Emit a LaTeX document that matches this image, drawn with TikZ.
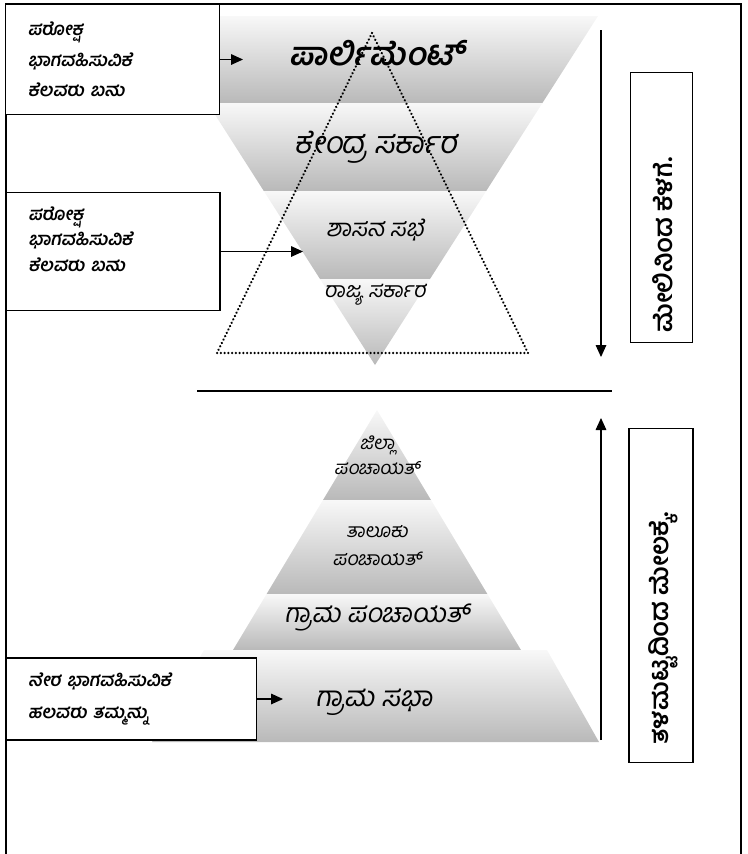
\documentclass[tikz,border=0pt]{standalone}
\usepackage{fontspec}
\newfontfamily\kn[Script=Kannada]{Hind Mysuru}
\newfontfamily\knit[Script=Kannada,FakeSlant=0.18]{Hind Mysuru}
\usetikzlibrary{arrows.meta}
\definecolor{bandtop}{HTML}{F8F8F8}
\definecolor{bandbot}{HTML}{B9B9B9}

\begin{document}
\begin{tikzpicture}[
  x=0.75pt, y=-0.75pt,
  infobox/.style={draw, line width=0.9pt, fill=white, align=left, inner xsep=16pt,
                  font=\knit\bfseries\fontsize{13.5}{23}\selectfont},
  tier/.style={align=center, inner sep=1pt},
  band/.style={top color=bandtop, bottom color=bandbot},
  flow/.style={-{Triangle[length=9pt,width=8pt]}, line width=0.8pt},
  vbox/.style={draw, line width=0.9pt},
  vlbl/.style={font=\kn\bfseries\fontsize{19}{22}\selectfont, rotate=90, anchor=west, inner sep=0pt},
  dots/.style={line width=1.9pt, line cap=round, dash pattern=on 0.01pt off 2.8pt},
]
\useasboundingbox (0,0) rectangle (747,854);

% inverted pyramid
\shade[band] (152,16) -- (598,16) -- (542.4,103) -- (207.6,103) -- cycle;
\shade[band] (207.6,103) -- (542.4,103) -- (486.2,191) -- (263.8,191) -- cycle;
\shade[band] (263.8,191) -- (486.2,191) -- (430,279) -- (320,279) -- cycle;
\shade[band] (320,279) -- (430,279) -- (375,365) -- cycle;

\node[tier, font=\knit\bfseries\fontsize{24}{28}\selectfont] (parl)   at (377,53)  {ಪಾರ್ಲಿಮೆಂಟ್};
\node[tier, font=\knit\fontsize{23}{26}\selectfont]          (kendra) at (376,147) {ಕೇಂದ್ರ ಸರ್ಕಾರ};
\node[tier, font=\knit\fontsize{18}{21}\selectfont]          (sabhe)  at (375,230) {ಶಾಸನ ಸಭೆ};
\node[tier, font=\knit\fontsize{16}{19}\selectfont]          (rajya)  at (375,295) {ರಾಜ್ಯ ಸರ್ಕಾರ};

\draw[dots] (372,33) -- (528,353) -- (217,353) -- cycle;

% upright pyramid
\shade[band] (377,410) -- (431,500) -- (323,500) -- cycle;
\shade[band] (323,500) -- (431,500) -- (487.4,594) -- (266.6,594) -- cycle;
\shade[band] (266.6,594) -- (487.4,594) -- (521,650) -- (233,650) -- cycle;
\shade[band] (204,650) -- (547,650) -- (599,742) -- (152,742) -- cycle;

\node[tier, font=\knit\fontsize{14}{19}\selectfont]   (jilla)   at (377,455) {ಜಿಲ್ಲಾ\\ಪಂಚಾಯತ್};
\node[tier, font=\knit\fontsize{14.5}{21}\selectfont] (taluk)   at (377,546) {ತಾಲೂಕು\\ಪಂಚಾಯತ್};
\node[tier, font=\knit\fontsize{20}{24}\selectfont]   (grama)   at (377,617) {ಗ್ರಾಮ ಪಂಚಾಯತ್};
\node[tier, font=\knit\fontsize{21}{24}\selectfont]   (gsabha)  at (374,702) {ಗ್ರಾಮ ಸಭಾ};

% frame
\draw[line width=1pt] (6,854) |- (741,4) -- (741,854);

% side boxes
\node[infobox, minimum width=160pt, minimum height=83pt, text width=127pt] (indirectA) at (112.5,59.5)
  {ಪರೋಕ್ಷ\\ಭಾಗವಹಿಸುವಿಕೆ\\ಕೆಲವರು ಬಹು};
\node[infobox, minimum width=160.5pt, minimum height=88pt, text width=127pt,
      font=\knit\bfseries\fontsize{13.5}{19}\selectfont] (indirectB) at (113,251.5)
  {ಪರೋಕ್ಷ\\ಭಾಗವಹಿಸುವಿಕೆ\\ಕೆಲವರು ಬಹು\\\mbox{}};
\node[infobox, minimum width=188pt, minimum height=61.5pt, text width=155pt,
      font=\knit\bfseries\fontsize{13.5}{24}\selectfont] (direct) at (131.5,699)
  {ನೇರ ಭಾಗವಹಿಸುವಿಕೆ\\ಹಲವರು ತಮ್ಮನ್ನು};

\coordinate (parlin)  at (243,59.5);
\coordinate (sabhein) at (303,251.5);
\coordinate (gramin)  at (283,699);
\draw[flow] (indirectA.east) -- (parlin);
\draw[flow] (indirectB.east) -- (sabhein);
\draw[flow] (direct.east) -- (gramin);

% direction arrows
\coordinate (downtop) at (601,30);
\coordinate (downtip) at (601,357);
\coordinate (uptop)   at (601,418);
\coordinate (upfoot)  at (601,740);
\draw[flow] (downtop) -- (downtip);
\draw[flow] (upfoot) -- (uptop);

\coordinate (divl) at (197,391);
\coordinate (divr) at (612,391);
\draw[line width=0.9pt] (divl) -- (divr);

\node[vbox, minimum width=47pt, minimum height=202pt] (topdown) at (661.5,207.5) {};
\node[vbox, minimum width=48pt, minimum height=251pt] (bottomup) at (661,595.5) {};
\node[vlbl] (topdownlbl)  at (663,333) {ಮೇಲಿನಿಂದ ಕೆಳಗೆ.};
\node[vlbl] (bottomuplbl) at (663,745) {ತಳಮಟ್ಟದಿಂದ ಮೇಲಕ್ಕೆ.};

\end{tikzpicture}
\end{document}
